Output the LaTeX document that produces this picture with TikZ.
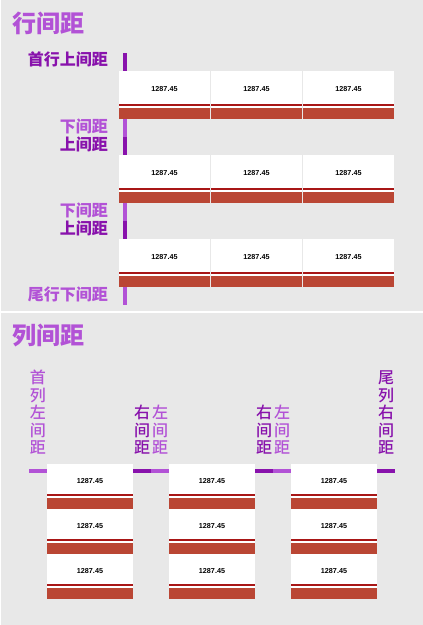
\documentclass[tikz,border=0pt]{standalone}
\usepackage{fontspec}
\usepackage{xcolor}
\usepackage{tikz}
\usetikzlibrary{positioning}

\newfontfamily\cjk{Noto Sans CJK SC}
\newfontfamily\cjkmid{Noto Sans CJK SC Medium}
\newfontfamily\numfont{Liberation Sans}
\definecolor{bggray}{RGB}{232,232,232}
\definecolor{lightpurple}{RGB}{178,82,214}
\definecolor{darkpurple}{RGB}{136,18,172}
\definecolor{bandred}{RGB}{186,70,52}
\definecolor{linered}{RGB}{168,22,22}

\begin{document}
\begin{tikzpicture}[x=1pt, y=-1pt,
		cell/.style={fill=white, inner sep=0, outer sep=0,
			font=\numfont\bfseries\fontsize{7.2}{8}\selectfont, text height=5pt, text depth=12pt,
			path picture={
				\fill[bandred] (path picture bounding box.south west) rectangle ([yshift=11.3pt]path picture bounding box.south east);
				\fill[linered] ([yshift=13pt]path picture bounding box.south west) rectangle ([yshift=14.7pt]path picture bounding box.south east);}},
		rowcell/.style={cell, minimum width=91pt, minimum height=48pt},
		colcell/.style={cell, minimum width=86pt, minimum height=45pt},
		hibar/.style={fill=darkpurple, inner sep=0, outer sep=0},
		lobar/.style={fill=lightpurple, inner sep=0, outer sep=0},
		rowbar/.style={minimum width=4pt, minimum height=18pt},
		colbar/.style={minimum width=18pt, minimum height=4pt},
		rowtext/.style={font=\cjk\bfseries\fontsize{16}{17.5}\selectfont, inner sep=0},
		coltext/.style={font=\cjkmid\fontsize{16}{17.5}\selectfont, inner sep=0, align=center},
		title/.style={font=\cjk\bfseries\fontsize{24}{28}\selectfont, text=lightpurple, inner sep=0, anchor=west}]

		\fill[bggray] (0,0) rectangle (423,625);
		\useasboundingbox (0,0) rectangle (423,625);
		\draw[white, line width=1pt] (0.5,0) -- (0.5,625);
		\draw[white, line width=1.2pt] (0,312) -- (423,312);

		% row spacing
		\node[title] (title1) at (12,23.5) {行间距};
		\node[rowcell, anchor=north west] (1-1) at (119,71) {1287.45};
		\node[rowcell, right = 1pt of 1-1] (1-2) {1287.45};
		\node[rowcell, right = 1pt of 1-2] (1-3) {1287.45};
		\node[rowcell, below = 36pt of 1-1] (2-1) {1287.45};
		\node[rowcell, right = 1pt of 2-1] (2-2) {1287.45};
		\node[rowcell, right = 1pt of 2-2] (2-3) {1287.45};
		\node[rowcell, below = 36pt of 2-1] (3-1) {1287.45};
		\node[rowcell, right = 1pt of 3-1] (3-2) {1287.45};
		\node[rowcell, right = 1pt of 3-2] (3-3) {1287.45};

		\node[hibar, rowbar, anchor=south west] (up1) at ([xshift=4pt]1-1.north west) {};
		\node[lobar, rowbar, anchor=north west] (down1) at ([xshift=4pt]1-1.south west) {};
		\node[hibar, rowbar, below = 0pt of down1] (up2) {};
		\node[lobar, rowbar, anchor=north west] (down2) at ([xshift=4pt]2-1.south west) {};
		\node[hibar, rowbar, below = 0pt of down2] (up3) {};
		\node[lobar, rowbar, anchor=north west] (down3) at ([xshift=4pt]3-1.south west) {};

		\node[rowtext, text=darkpurple, left = 15pt of up1.north west, anchor=north east, yshift=2pt] (u1) {首行上间距};
		\node[rowtext, text=lightpurple, left = 15pt of down1.north west, anchor=north east] (d1) {下间距};
		\node[rowtext, text=darkpurple, left = 15pt of up2.north west, anchor=north east] (u2) {上间距};
		\node[rowtext, text=lightpurple, left = 15pt of down2.north west, anchor=north east] (d2) {下间距};
		\node[rowtext, text=darkpurple, left = 15pt of up3.north west, anchor=north east] (u3) {上间距};
		\node[rowtext, text=lightpurple, left = 15pt of down3.north west, anchor=north east] (d3) {尾行下间距};

		% column spacing
		\node[title] (title2) at (12,335.5) {列间距};
		\node[colcell, anchor=north west] (c1-1) at (47,464) {1287.45};
		\node[colcell, below = 0pt of c1-1] (c1-2) {1287.45};
		\node[colcell, below = 0pt of c1-2] (c1-3) {1287.45};
		\node[colcell, right = 36pt of c1-1] (c2-1) {1287.45};
		\node[colcell, below = 0pt of c2-1] (c2-2) {1287.45};
		\node[colcell, below = 0pt of c2-2] (c2-3) {1287.45};
		\node[colcell, right = 36pt of c2-1] (c3-1) {1287.45};
		\node[colcell, below = 0pt of c3-1] (c3-2) {1287.45};
		\node[colcell, below = 0pt of c3-2] (c3-3) {1287.45};

		\node[lobar, colbar, below left = 5pt and 0pt of c1-1.north west] (left1) {};
		\node[hibar, colbar, below right = 5pt and 0pt of c1-1.north east] (right1) {};
		\node[lobar, colbar, right = 0pt of right1] (left2) {};
		\node[hibar, colbar, below right = 5pt and 0pt of c2-1.north east] (right2) {};
		\node[lobar, colbar, right = 0pt of right2] (left3) {};
		\node[hibar, colbar, below right = 5pt and 0pt of c3-1.north east] (right3) {};

		\node[coltext, text=lightpurple, above = 14.5pt of left1] (l1) {首\\列\\左\\间\\距};
		\node[coltext, text=darkpurple, above = 14.5pt of right1] (r1) {右\\间\\距};
		\node[coltext, text=lightpurple, above = 14.5pt of left2] (l2) {左\\间\\距};
		\node[coltext, text=darkpurple, above = 14.5pt of right2] (r2) {右\\间\\距};
		\node[coltext, text=lightpurple, above = 14.5pt of left3] (l3) {左\\间\\距};
		\node[coltext, text=darkpurple, above = 14.5pt of right3] (r3) {尾\\列\\右\\间\\距};
\end{tikzpicture}
\end{document}
